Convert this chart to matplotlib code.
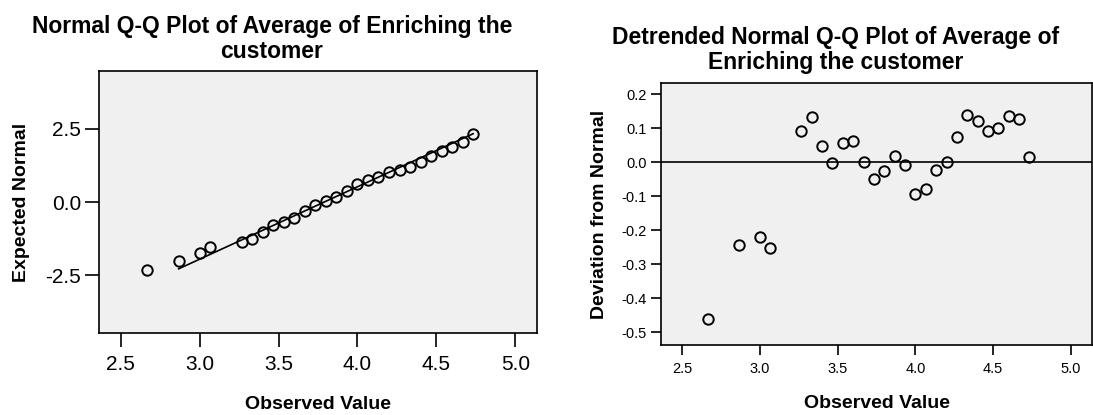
import matplotlib.pyplot as plt

plt.rcParams['font.family'] = ['Liberation Sans', 'DejaVu Sans']

# observed averages (steps of 1/15)
observed = [2.667, 2.867, 3.000, 3.067, 3.267, 3.333, 3.400, 3.467, 3.533,
            3.600, 3.667, 3.733, 3.800, 3.867, 3.933, 4.000, 4.067, 4.133,
            4.200, 4.267, 4.333, 4.400, 4.467, 4.533, 4.600, 4.667, 4.733]

# expected normal values (left panel)
expected = [-2.31, -2.03, -1.73, -1.53, -1.38, -1.26, -1.01, -0.79, -0.69,
            -0.53, -0.30, -0.09, 0.05, 0.17, 0.36, 0.61, 0.76, 0.87,
            1.01, 1.10, 1.20, 1.38, 1.58, 1.73, 1.86, 2.04, 2.31]

# deviation from normal (right panel)
deviation = [-0.462, -0.243, -0.219, -0.252, 0.093, 0.134, 0.048, -0.003, 0.058,
             0.064, 0.001, -0.050, -0.027, 0.019, -0.007, -0.094, -0.078, -0.023,
             0.001, 0.074, 0.138, 0.122, 0.091, 0.102, 0.137, 0.127, 0.016]

# reference line end points (left panel)
line_x = [2.867, 4.733]
line_y = [-2.28, 2.33]

x_ticks = [2.5, 3.0, 3.5, 4.0, 4.5, 5.0]
left_yticks = [-2.5, 0.0, 2.5]
right_yticks = [-0.5, -0.4, -0.3, -0.2, -0.1, 0.0, 0.1, 0.2]

bg = '#f0f0f0'
W, H = 1093, 415
fig = plt.figure(figsize=(W / 100, H / 100), dpi=100)

def px_axes(x0, y0, x1, y1):
    return fig.add_axes([x0 / W, 1 - y1 / H, (x1 - x0) / W, (y1 - y0) / H])

ax1 = px_axes(99, 71, 537, 333)
ax2 = px_axes(661, 83, 1092, 345)

marker_kw = dict(linestyle='none', marker='o', markersize=7.5,
                 markerfacecolor='none', markeredgecolor='black',
                 markeredgewidth=1.4)

# left: normal Q-Q
ax1.plot(line_x, line_y, color='black', lw=1.2)
ax1.plot(observed, expected, **marker_kw)
ax1.set_xlim(2.362, 5.138)
ax1.set_ylim(-4.47, 4.47)
ax1.set_xticks(x_ticks)
ax1.set_xticklabels(['%.1f' % v for v in x_ticks])
ax1.set_yticks(left_yticks)
ax1.set_yticklabels(['%.1f' % v for v in left_yticks])
ax1.tick_params(direction='out', length=10, width=1.2, labelsize=15, pad=3)
ax1.tick_params(axis='x', pad=6)
ax1.set_xlabel('Observed Value', fontsize=14, fontweight='bold', labelpad=16)
ax1.set_ylabel('Expected Normal', fontsize=14, fontweight='bold', labelpad=11)
fig.text(272 / W, 1 - 39 / H,
         'Normal Q-Q Plot of Average of Enriching the\ncustomer',
         ha='center', va='center', fontsize=16.5, fontweight='bold',
         linespacing=1.15)

# right: detrended normal Q-Q
ax2.axhline(0, color='black', lw=1.2)
ax2.plot(observed, deviation, **marker_kw)
ax2.set_xlim(2.365, 5.135)
ax2.set_ylim(-0.537, 0.233)
ax2.set_xticks(x_ticks)
ax2.set_xticklabels(['%.1f' % v for v in x_ticks])
ax2.set_yticks(right_yticks)
ax2.set_yticklabels(['%.1f' % v for v in right_yticks])
ax2.tick_params(direction='out', length=7, width=1.2, labelsize=10.5, pad=3)
ax2.tick_params(axis='x', pad=5)
ax2.set_xlabel('Observed Value', fontsize=14, fontweight='bold', labelpad=14)
ax2.set_ylabel('Deviation from Normal', fontsize=14, fontweight='bold', labelpad=10)
fig.text(836 / W, 1 - 50 / H,
         'Detrended Normal Q-Q Plot of Average of\nEnriching the customer',
         ha='center', va='center', fontsize=16.5, fontweight='bold',
         linespacing=1.15)

for ax in (ax1, ax2):
    ax.set_facecolor(bg)
    for s in ax.spines.values():
        s.set_linewidth(1.2)

fig.savefig('out.png', dpi=100)
